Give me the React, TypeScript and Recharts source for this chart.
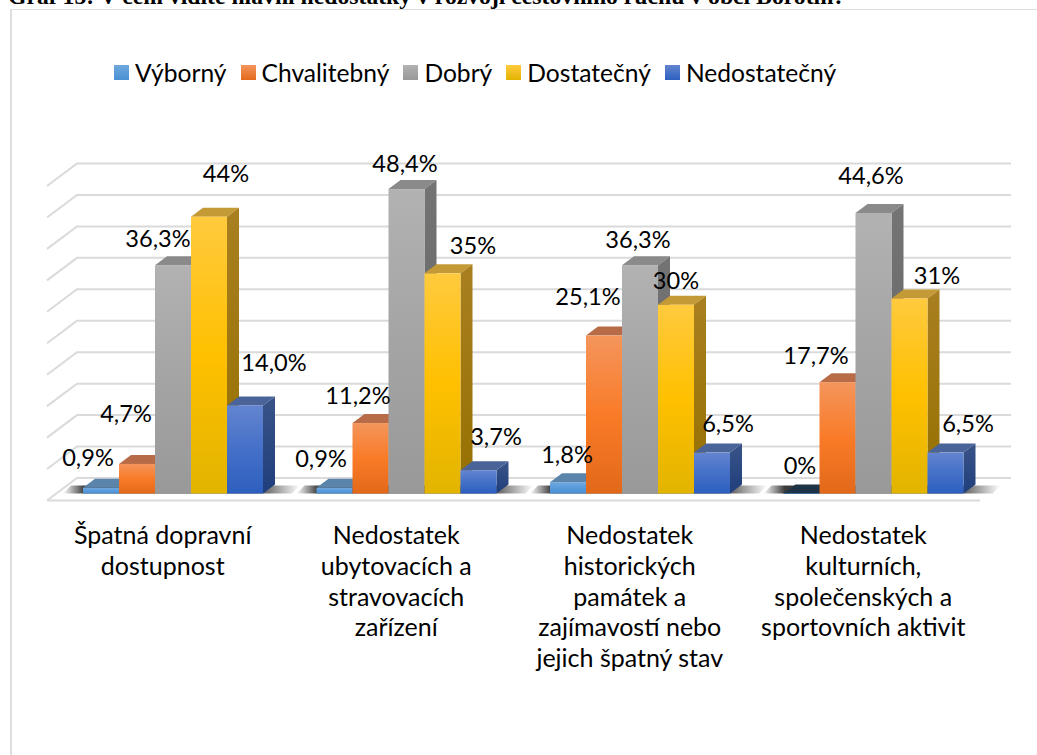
import React from "react";
import { BarChart, Bar, XAxis, YAxis, Legend, LabelList, CartesianGrid } from "recharts";

const FONT = "Lato, 'Open Sans', sans-serif";
const TITLE = "Graf 15: V čem vidíte hlavní nedostatky v rozvoji cestovního ruchu v obci Borotín?";

const categories = [
  ["Špatná dopravní", "dostupnost"],
  ["Nedostatek", "ubytovacích a", "stravovacích", "zařízení"],
  ["Nedostatek", "historických", "památek a", "zajímavostí nebo", "jejich špatný stav"],
  ["Nedostatek", "kulturních,", "společenských a", "sportovních aktivit"],
];
const ticks = [0, 5, 10, 15, 20, 25, 30, 35, 40, 45, 50];

const seriesNames = ["Výborný", "Chvalitebný", "Dobrý", "Dostatečný", "Nedostatečný"];
const vyborny = [0.9, 0.9, 1.8, 0];
const chvalitebny = [4.7, 11.2, 25.1, 17.7];
const dobry = [36.3, 48.4, 36.3, 44.6];
const dostatecny = [44, 35, 30, 31];
const nedostatecny = [14.0, 3.7, 6.5, 6.5];
const seriesValues = [vyborny, chvalitebny, dobry, dostatecny, nedostatecny];

const vybornyLabels = ["0,9%", "0,9%", "1,8%", "0%"];
const chvalitebnyLabels = ["4,7%", "11,2%", "25,1%", "17,7%"];
const dobryLabels = ["36,3%", "48,4%", "36,3%", "44,6%"];
const dostatecnyLabels = ["44%", "35%", "30%", "31%"];
const nedostatecnyLabels = ["14,0%", "3,7%", "6,5%", "6,5%"];
const seriesLabels = [vybornyLabels, chvalitebnyLabels, dobryLabels, dostatecnyLabels, nedostatecnyLabels];

const data = categories.map((c, i) => {
  const row: any = { name: c.join(" "), idx: i };
  seriesNames.forEach((s, k) => { row[s] = seriesValues[k][i]; });
  return row;
});

const styles = [
  { top: "#6fa8dc", mid: "#5a9bdc", bottom: "#4a90d4", roof: "#5b84ab", sideA: "#4d7aa8", sideB: "#3e6a98" },
  { top: "#f4955c", mid: "#f97b28", bottom: "#e2691a", roof: "#b76c47", sideA: "#b5683f", sideB: "#a04f1a" },
  { top: "#b2b2b2", mid: "#a4a4a4", bottom: "#999999", roof: "#8a8a8a", sideA: "#747474", sideB: "#626262" },
  { top: "#ffca3e", mid: "#ffc000", bottom: "#e2b400", roof: "#c49a36", sideA: "#a97f20", sideB: "#967000" },
  { top: "#6385d0", mid: "#4470c8", bottom: "#2d5fbf", roof: "#4a6499", sideA: "#3a5488", sideB: "#1f3e7c" },
];
const labelOffsets = [
  [[-13, -30], [-13.5, -29], [-1, -27], [-1.5, -27.5]],
  [[-11, -50], [-12.5, -27], [-16, -39], [-21.5, -26]],
  [[-15, -26.5], [-1.5, -25.5], [-2, -25.5], [-2.5, -37.4]],
  [[17, -43], [30.5, -27.7], [0, -24], [27.5, -22.8]],
  [[29, -42.6], [17.5, -33.3], [16, -28.7], [22.5, -28.7]],
];
const DX = 12;
const DY = 9;
const GRID = "#dadada";

const Bar3D = (k: number) => (p: any) => {
  const { x, y, width, height } = p;
  const s = styles[k];
  const b = y + height;
  const flat = height < 1;
  return (
    <g>
      {k === 0 ? (
        <polygon
          points={`${x - 20},${b} ${x - 12},${b - 8} ${x + 5 * width + 37},${b - 8} ${x + 5 * width + 29},${b}`}
          fill="url(#floorShadow)"
        />
      ) : null}
      <polygon points={`${x},${y} ${x + width},${y} ${x + width + DX},${y - DY} ${x + DX},${y - DY}`} fill={flat ? "#1f3347" : s.roof} />
      <polygon points={`${x + width},${y} ${x + width + DX},${y - DY} ${x + width + DX},${b - DY} ${x + width},${b}`} fill={`url(#side${k})`} />
      {flat ? <rect x={x} y={y - 0.5} width={width} height={1} fill="#3e6a98" /> : <rect x={x} y={y} width={width} height={height} fill={`url(#front${k})`} />}
    </g>
  );
};

const Label3D = (k: number) => (p: any) => {
  const vb = p.viewBox || p;
  const x = p.x ?? vb.x;
  const y = p.y ?? vb.y;
  const w = p.width ?? vb.width;
  const i = p.index;
  const [ox, oy] = labelOffsets[k][i];
  return (
    <text x={x + w / 2 + ox} y={y + oy + 8} textAnchor="middle" fontFamily={FONT} fontSize={23.6} fill="#000">
      {seriesLabels[k][i]}
    </text>
  );
};

const gridLine = (p: any) => {
  const y = p.y1;
  return (
    <g key={p.index ?? y}>
      <polyline points={`47,${y + 7} 77,${y - 15.5} 1011,${y - 15.5}`} fill="none" stroke={GRID} strokeWidth={2} />
      {Math.abs(y - 493.5) < 3 ? <line x1={47} x2={980} y1={y + 7} y2={y + 7} stroke={GRID} strokeWidth={2} /> : null}
    </g>
  );
};

const NoTick = () => <g />;

const CatTick = (p: any) => {
  const lines = categories[p.index];
  return (
    <g>
      {lines.map((l: string, i: number) => (
        <text key={i} x={p.x - 10} y={544 + i * 30.8} textAnchor="middle" fontFamily={FONT} fontSize={25} fill="#000">
          {l}
        </text>
      ))}
    </g>
  );
};

const LegendContent = () => (
  <div style={{ display: "flex", alignItems: "center", fontFamily: FONT, fontSize: 24.6, color: "#000", whiteSpace: "nowrap" }}>
    {seriesNames.map((name, i) => (
      <div key={i} style={{ display: "flex", alignItems: "center", marginRight: 14 }}>
        <span style={{ width: 15, height: 15, marginRight: 6, display: "inline-block", background: `linear-gradient(${styles[i].top}, ${styles[i].bottom})` }} />
        <span>{name}</span>
      </div>
    ))}
  </div>
);

export default function App() {
  return (
    <div style={{ position: "absolute", left: 0, top: 0, width: 1037, height: 755, overflow: "hidden", background: "#fff" }}>
      <div style={{ position: "absolute", left: 8, top: -17, fontFamily: "'Liberation Serif', serif", fontWeight: "bold", fontSize: 23.7, whiteSpace: "nowrap", color: "#000" }}>
        {TITLE}
      </div>
      <div style={{ position: "absolute", left: 10, top: 9, right: 0, bottom: 0, borderLeft: "2px solid #dedede", borderTop: "1px solid #dedede" }} />
      <div style={{ position: "absolute", left: 0, top: 0 }}>
        <BarChart
          width={1037}
          height={755}
          data={data}
          barSize={36}
          barGap={0}
          margin={{ top: 149, right: 47, bottom: 1.5, left: 56 }}
        >
          <defs>
            {styles.map((s, k) => (
              <linearGradient key={k} id={`front${k}`} x1="0" y1="0" x2="0" y2="1">
                <stop offset="0%" stopColor={s.top} />
                <stop offset="50%" stopColor={s.mid} />
                <stop offset="100%" stopColor={s.bottom} />
              </linearGradient>
            ))}
            {styles.map((s, k) => (
              <linearGradient key={k} id={`side${k}`} x1="0" y1="0" x2="0" y2="1">
                <stop offset="0%" stopColor={s.sideA} />
                <stop offset="100%" stopColor={s.sideB} />
              </linearGradient>
            ))}
            <linearGradient id="floorShadow" x1="0" y1="0" x2="1" y2="0">
              <stop offset="0%" stopColor="#444444" stopOpacity={0} />
              <stop offset="9%" stopColor="#3a3a3a" />
              <stop offset="81%" stopColor="#3a3a3a" />
              <stop offset="100%" stopColor="#444444" stopOpacity={0} />
            </linearGradient>
          </defs>
          <CartesianGrid vertical={false} horizontal={gridLine} horizontalValues={ticks} />
          <YAxis width={0} domain={[0, 50]} ticks={ticks} interval={0} axisLine={false} tickLine={false} tick={<NoTick />} />
          <XAxis dataKey="name" height={260} axisLine={false} tickLine={false} interval={0} tick={<CatTick />} />
          <Legend
            verticalAlign="top"
            itemSorter={null}
            content={<LegendContent />}
            wrapperStyle={{ position: "absolute", left: 114, top: 58, width: 800, height: 30 }}
          />
          {seriesNames.map((s, k) => (
            <Bar key={s} dataKey={s} fill={styles[k].mid} isAnimationActive={false} shape={Bar3D(k)}>
              <LabelList dataKey={s} content={Label3D(k)} />
            </Bar>
          ))}
        </BarChart>
      </div>
    </div>
  );
}
